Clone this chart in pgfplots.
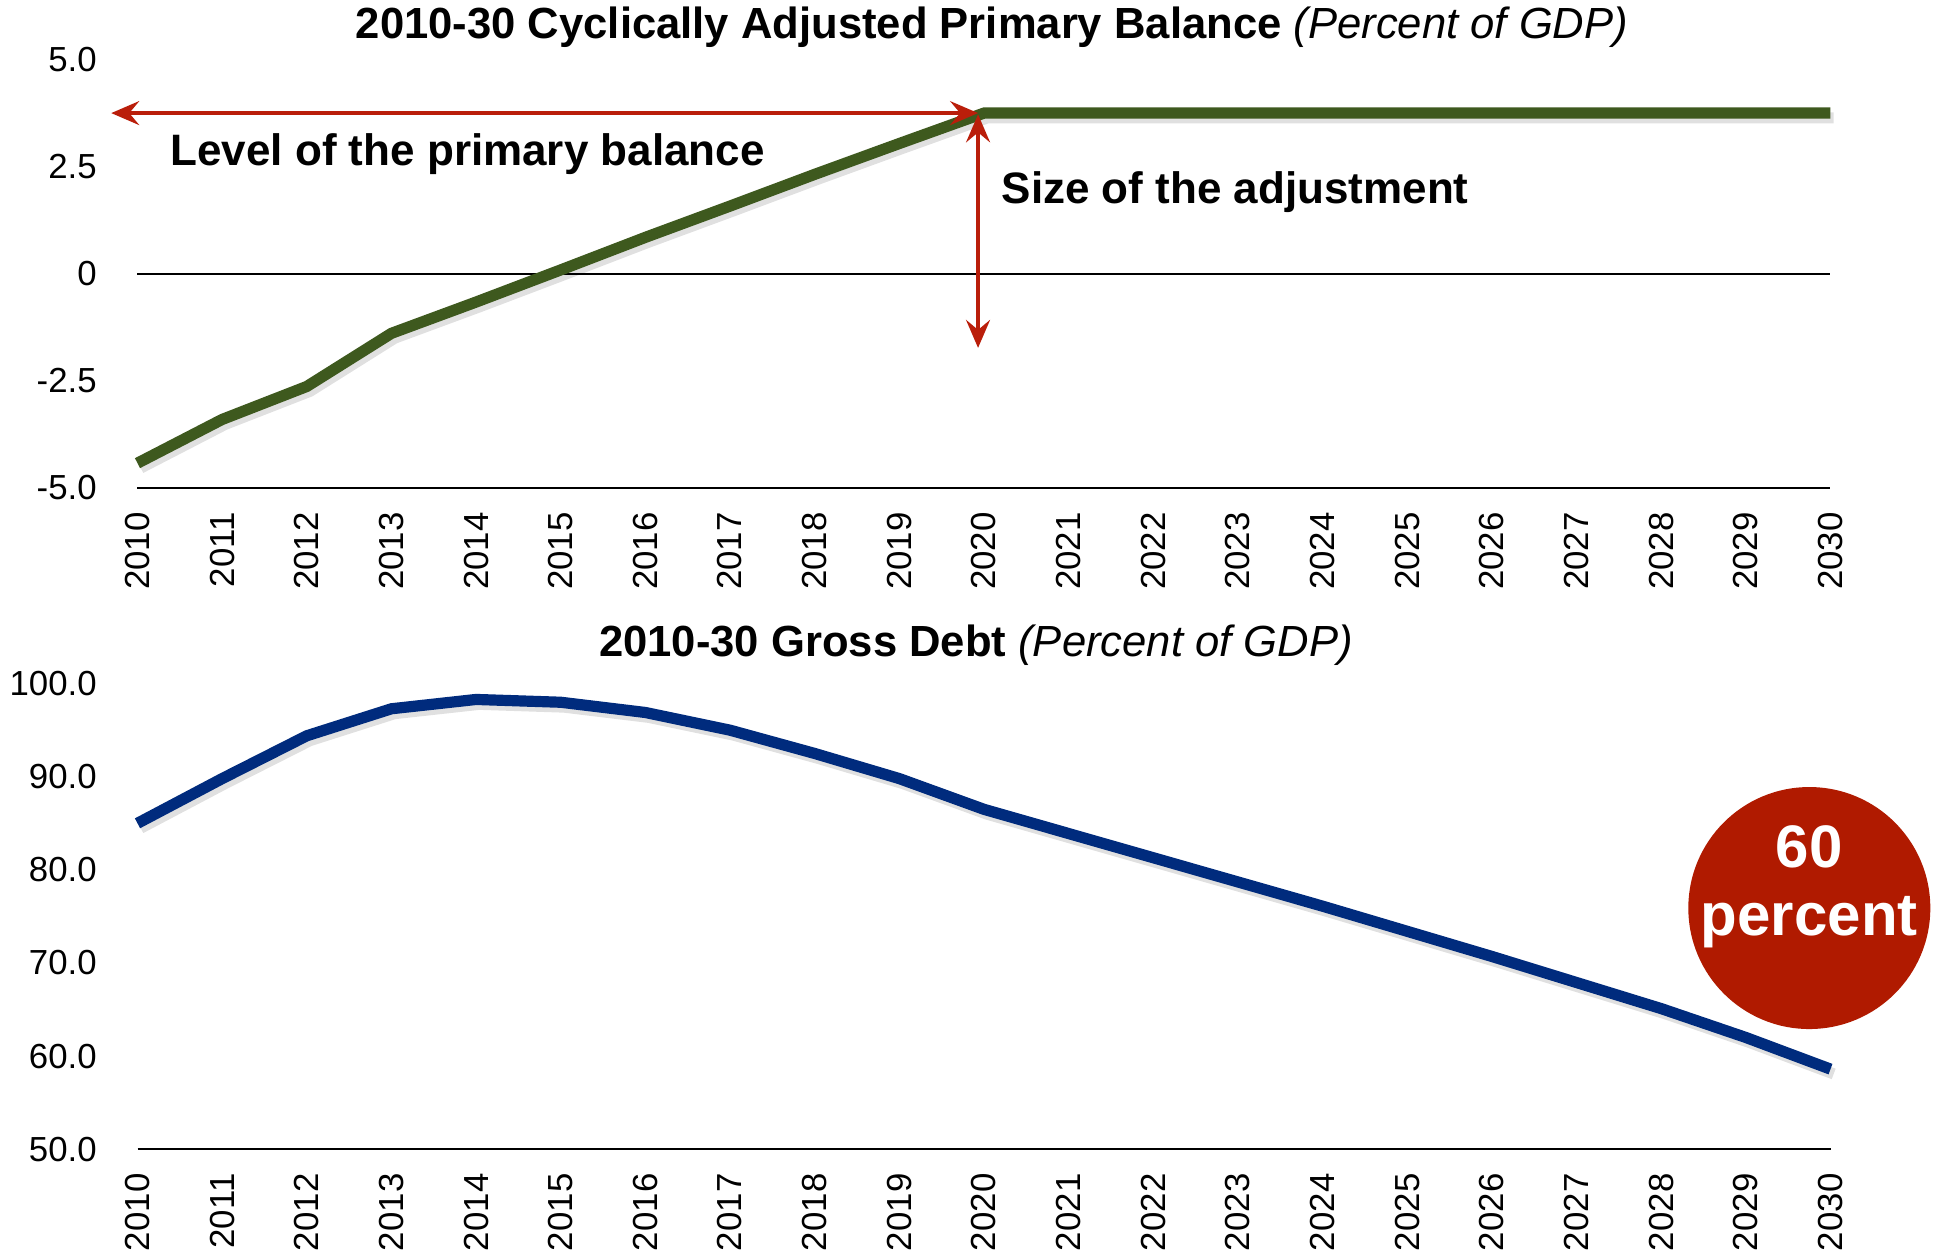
\documentclass[border=0pt]{standalone}
\usepackage{fontspec}
\setmainfont{Liberation Sans}
\usepackage{pgfplots}
\pgfplotsset{compat=1.18}
\usetikzlibrary{arrows.meta}

\definecolor{pbgreen}{RGB}{62,89,30}
\definecolor{debtblue}{RGB}{0,43,125}
\definecolor{arrowred}{RGB}{186,30,10}
\definecolor{circred}{RGB}{176,26,0}

\pgfplotsset{
  yearaxis/.style={
    scale only axis, width=423.25pt,
    xmin=2010, xmax=2030, xtick={2010,...,2030},
    axis x line*=bottom, axis y line*=left,
    y axis line style={draw=none},
    x axis line style={line width=0.5pt},
    major tick length=0pt,
    clip=false,
    /pgf/number format/assume math mode=true,
    /pgf/number format/1000 sep={},
    tick label style={font=\fontsize{8.7}{10}\selectfont, inner sep=0pt},
    xticklabel style={rotate=90, anchor=east},
    xticklabel shift=5.9pt,
    yticklabel shift=10pt,
  },
  shadow/.style={black, opacity=0.12, line width=2.8pt, xshift=0.8pt, yshift=-1.2pt},
}

\begin{document}
\begin{tikzpicture}
\useasboundingbox (0,0) rectangle (485.5pt,-313.25pt);

% top panel: primary balance
\begin{axis}[yearaxis,
  at={(34.375pt,-122pt)}, anchor=south west,
  height=107.125pt,
  ymin=-5, ymax=5,
  ytick={-5,-2.5,0,2.5,5},
  yticklabels={-5.0,-2.5,0,2.5,5.0},
]
\addplot[black, line width=0.5pt] coordinates {(2010,0) (2030,0)};
\addplot[shadow] coordinates {
  (2010,-4.42) (2011,-3.40) (2012,-2.63) (2013,-1.39) (2014,-0.66)
  (2015,0.09) (2016,0.85) (2017,1.58) (2018,2.32) (2019,3.04)
  (2020,3.75) (2021,3.75) (2022,3.75) (2023,3.75) (2024,3.75)
  (2025,3.75) (2026,3.75) (2027,3.75) (2028,3.75) (2029,3.75) (2030,3.75)
};
\addplot[pbgreen, line width=2.8pt] coordinates {
  (2010,-4.42) (2011,-3.40) (2012,-2.63) (2013,-1.39) (2014,-0.66)
  (2015,0.09) (2016,0.85) (2017,1.58) (2018,2.32) (2019,3.04)
  (2020,3.75) (2021,3.75) (2022,3.75) (2023,3.75) (2024,3.75)
  (2025,3.75) (2026,3.75) (2027,3.75) (2028,3.75) (2029,3.75) (2030,3.75)
};
\draw[arrowred, line width=0.8pt, {Stealth[length=7pt,width=6pt,inset=2.5pt]}-{Stealth[length=7pt,width=6pt,inset=2.5pt]}]
  (axis cs:2009.69,3.75) -- (axis cs:2019.93,3.75);
\draw[arrowred, line width=0.8pt, {Stealth[length=7pt,width=6pt,inset=2.5pt]}-{Stealth[length=7pt,width=6pt,inset=2.5pt]}]
  (axis cs:2019.93,3.72) -- (axis cs:2019.93,-1.73);
\node[anchor=west, inner sep=0pt, font=\bfseries\fontsize{11}{13}\selectfont]
  at (axis cs:2010.38,2.80) {Level of the primary balance};
\node[anchor=west, inner sep=0pt, font=\bfseries\fontsize{11}{13}\selectfont]
  at (axis cs:2020.2,1.91) {Size of the adjustment};
\end{axis}

% bottom panel: gross debt
\begin{axis}[yearaxis,
  at={(34.375pt,-287.3pt)}, anchor=south west,
  height=116.4pt,
  ymin=50, ymax=100,
  ytick={50,60,70,80,90,100},
  yticklabels={50.0,60.0,70.0,80.0,90.0,100.0},
]
\addplot[shadow] coordinates {
  (2010,85.0) (2011,89.8) (2012,94.4) (2013,97.3) (2014,98.3)
  (2015,98.0) (2016,96.9) (2017,95.0) (2018,92.5) (2019,89.8)
  (2020,86.5) (2021,83.9) (2022,81.3) (2023,78.7) (2024,76.1)
  (2025,73.4) (2026,70.7) (2027,67.9) (2028,65.1) (2029,62.0) (2030,58.6)
};
\addplot[debtblue, line width=2.8pt] coordinates {
  (2010,85.0) (2011,89.8) (2012,94.4) (2013,97.3) (2014,98.3)
  (2015,98.0) (2016,96.9) (2017,95.0) (2018,92.5) (2019,89.8)
  (2020,86.5) (2021,83.9) (2022,81.3) (2023,78.7) (2024,76.1)
  (2025,73.4) (2026,70.7) (2027,67.9) (2028,65.1) (2029,62.0) (2030,58.6)
};
\node[circle, fill=circred, minimum size=60.5pt, inner sep=0pt] (c60) at (axis cs:2029.75,75.9) {};
\node[anchor=base, inner sep=0pt, text=white, font=\bfseries\fontsize{15}{17}\selectfont]
  at ([yshift=10.2pt]c60.center) {60};
\node[anchor=base, inner sep=0pt, text=white, font=\bfseries\fontsize{15}{17}\selectfont]
  at ([yshift=-6.8pt]c60.center) {percent};
\end{axis}

% panel titles
\node[font=\fontsize{10.9}{12}\selectfont, inner sep=0pt] at (248pt,-6.75pt)
  {\textbf{2010-30 Cyclically Adjusted Primary Balance} \textit{(Percent of GDP)}};
\node[font=\fontsize{10.9}{12}\selectfont, inner sep=0pt] at (244pt,-161.25pt)
  {\textbf{2010-30 Gross Debt} \textit{(Percent of GDP)}};
\end{tikzpicture}
\end{document}
